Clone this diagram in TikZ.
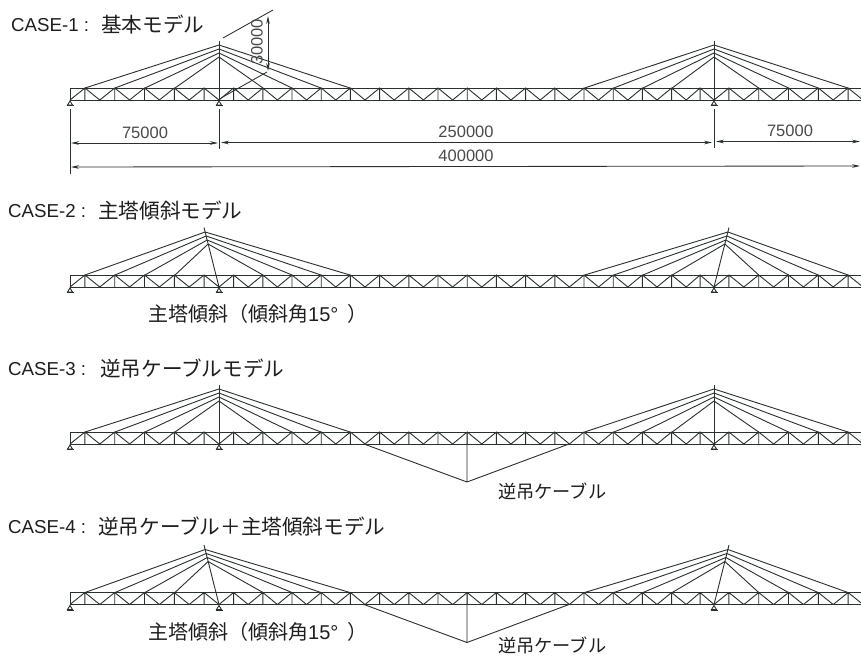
\documentclass[tikz,border=0pt]{standalone}
\usepackage{fontspec}
\setmainfont{Liberation Sans}
\newfontfamily\cjk{Noto Sans CJK JP}
\usetikzlibrary{arrows.meta}
\definecolor{ink}{HTML}{2A302E}
\definecolor{dimtext}{HTML}{4A4A4A}
\definecolor{titletext}{HTML}{1E1E1E}
\tikzset{
  member/.style={draw=ink,line width=0.9pt},
  chord/.style={draw=ink,line width=1pt},
  dimline/.style={draw=ink,line width=0.85pt},
  dimarrow/.style={dimline,{Stealth[length=8pt,width=3.6pt]}-{Stealth[length=8pt,width=3.6pt]}},
  casetext/.style={anchor=base west,inner sep=0pt,text=titletext,font=\fontsize{18.7}{20}\selectfont},
  casejp/.style={anchor=base west,inner sep=0pt,text=titletext,font=\fontsize{20.6}{22}\selectfont\cjk},
  remark/.style={anchor=base west,inner sep=0pt,text=titletext,font=\fontsize{20}{22}\selectfont\cjk},
  remarkb/.style={anchor=base west,inner sep=0pt,text=titletext,font=\fontsize{18.2}{20}\selectfont\cjk},
  dimlabel/.style={anchor=base,inner sep=0pt,font=\fontsize{16.5}{18}\selectfont,text=dimtext},
  bearing/.style={draw=ink,line width=0.9pt,fill=white}
}
% one run of panels: start x, panel width, number of panels
\newcommand{\trusspart}[3]{%
  \foreach \k in {1,...,#3}{%
    \pgfmathsetmacro{\xa}{#1+#2*(\k-1)}%
    \pgfmathsetmacro{\xm}{\xa+#2/2}%
    \pgfmathsetmacro{\xb}{\xa+#2}%
    \draw[member] (\xa,100) -- (\xm,88) -- (\xb,100) (\xm,88) -- (\xm,100);
  }%
}
% a small bearing triangle under the bottom chord
\newcommand{\bearingat}[1]{%
  \draw[bearing] (#1,101) -- (#1-2.5,105) -- (#1+2.5,105) -- cycle;
  \draw[chord] (#1-3.5,105.5) -- (#1+3.5,105.5);
}
\newcommand{\fan}[2]{% base x, lean
  \pgfmathsetmacro{\tx}{#1+#2}%
  \draw[member] (#1,100) -- (\tx,40.5);
}
% cable from a point of the leaning tower to a deck node
\newcommand{\cable}[4]{% base x, lean, height y on the tower, deck x
  \pgfmathsetmacro{\cx}{#1+#2*(100-#3)/59.5}%
  \draw[member] (\cx,#3) -- (#4,88);
}
\newcommand{\bridge}[2]{% vertical offset, lean
  \begin{scope}[shift={(0,#1)}]
    \draw[chord] (70,88) -- (861,88) (70,100) -- (861,100);
    \draw[member] (70,88) -- (70,100);
    \trusspart{70}{29.8}{5}
    \trusspart{219}{29.2}{16}
    \trusspart{686.2}{27.8}{1}
    \trusspart{714}{29.8}{5}
    \fan{219}{-#2}
    \fan{714}{#2}
    \foreach \yy/\dl/\dr/\el/\er in {45/85/350/584.6/848,49/115/321/613.8/818.2,53/145/292/643/788.5,57/175/263/672.2/758.7}{
      \cable{219}{-#2}{\yy}{\dl}
      \cable{219}{-#2}{\yy}{\dr}
      \cable{714}{#2}{\yy}{\el}
      \cable{714}{#2}{\yy}{\er}
    }
    \bearingat{70}
    \bearingat{219}
    \bearingat{714}
  \end{scope}
}
\newcommand{\hanger}[1]{%
  \begin{scope}[shift={(0,#1)}]
    \draw[member] (364,100) -- (467,138) -- (569,100) (467,138) -- (467,88);
  \end{scope}
}
\begin{document}
\begin{tikzpicture}[x=1pt,y=-1pt]
\useasboundingbox (0,0) rectangle (861,656);
\fill[white] (0,0) rectangle (861,656);

\bridge{0}{0}
\bridge{187}{15}
\bridge{344}{0}
\bridge{504.5}{15}
\hanger{344}
\hanger{504.5}

% titles
\node[casetext] (t1) at (11,31) {CASE-1 :};
\node[casejp]   (j1) at (101,32) {基本モデル};
\node[casetext] (t2) at (8,217) {CASE-2 :};
\node[casejp]   (j2) at (98,218) {主塔傾斜モデル};
\node[casetext] (t3) at (8,375) {CASE-3 :};
\node[casejp]   (j3) at (100,376) {逆吊ケーブルモデル};
\node[casetext] (t4) at (8,533) {CASE-4 :};
\node[casejp]   (j4) at (98,534) {逆吊ケーブル＋主塔傾斜モデル};

% remarks
\node[remark] (r1) at (148,321) {主塔傾斜（傾斜角{\rmfamily\fontspec{Liberation Sans}15°\hspace{9pt}}）};
\node[remarkb] (r2) at (498,498) {逆吊ケーブル};
\node[remark] (r3) at (148,639) {主塔傾斜（傾斜角{\rmfamily\fontspec{Liberation Sans}15°\hspace{9pt}}）};
\node[remarkb] (r4) at (498,652) {逆吊ケーブル};

% extension lines and dimensions
\coordinate (e1a) at (70,109); \coordinate (e1b) at (70,174);
\coordinate (e2a) at (219,109); \coordinate (e2b) at (219,149);
\coordinate (e3a) at (714,109); \coordinate (e3b) at (714,148);
\draw[dimline] (e1a) -- (e1b) (e2a) -- (e2b) (e3a) -- (e3b);
\coordinate (d1) at (71,143); \coordinate (d2) at (218,143);
\coordinate (d3) at (221,142.5); \coordinate (d4) at (712,142.5);
\coordinate (d5) at (716,141.5); \coordinate (d6) at (860,141.5);
\coordinate (d7) at (71,167); \coordinate (d8) at (860,166);
\draw[dimarrow] (d1) -- (d2);
\draw[dimarrow] (d3) -- (d4);
\draw[dimarrow] (d5) -- (d6);
\draw[dimarrow] (d7) -- (d8);
\node[dimlabel] (l1) at (145,138) {75000};
\node[dimlabel] (l2) at (466,137) {250000};
\node[dimlabel] (l3) at (790,136) {75000};
\node[dimlabel] (l4) at (466,161) {400000};

% 30000 height dimension
\coordinate (h1) at (223,38); \coordinate (h2) at (273,10);
\coordinate (h3) at (221,98); \coordinate (h4) at (267,72);
\coordinate (h5) at (268,16); \coordinate (h6) at (268,71);
\draw[dimline] (h1) -- (h2) (h3) -- (h4);
\draw[dimarrow] (h5) -- (h6);
\node[dimlabel,anchor=center,rotate=90] (l5) at (257,42) {30000};
\end{tikzpicture}
\end{document}
